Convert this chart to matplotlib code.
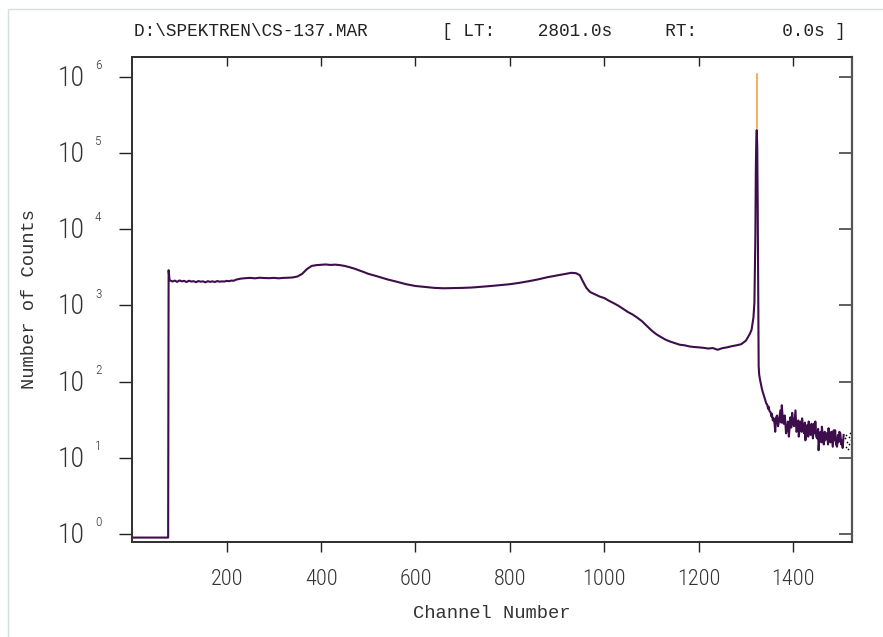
import matplotlib
matplotlib.use('Agg')
import matplotlib.pyplot as plt
from matplotlib.patches import Rectangle

#%% data (channel, counts)

channel_low = [0, 76, 77]
counts_low = [0.9, 0.9, 2900]

channel_flat = [79, 85, 90, 95, 100, 105, 110, 115, 120, 125, 130, 135, 140, 145, 150,
                155, 160, 165, 170, 175, 180, 185, 190, 195, 200, 205, 210, 215,
                220, 230, 240, 250, 260, 270, 280, 290, 300, 310, 320, 330, 340, 350,
                360, 370, 380, 390, 400, 410, 420, 430, 440, 450, 460, 470, 480, 490,
                500, 520, 540, 560, 580, 600, 620, 640, 660, 680, 700, 720, 740, 760,
                780, 800, 820, 840, 860, 880, 900, 915, 930, 940, 948, 955, 962, 970,
                980, 990, 1000, 1010, 1020, 1030, 1040, 1050, 1060, 1070, 1080, 1090,
                1100, 1110, 1120, 1130, 1140, 1150, 1160, 1170, 1180, 1190, 1200, 1210,
                1220, 1230, 1240, 1250, 1260, 1270, 1280, 1290, 1300, 1308, 1312, 1316]
counts_flat = [2150, 2060, 2120, 2040, 2130, 2070, 2100, 2030, 2110, 2060, 2080, 2020, 2090, 2050, 2070,
               2010, 2080, 2040, 2070, 2030, 2090, 2050, 2070, 2060, 2100, 2080, 2120, 2110,
               2180, 2250, 2280, 2300, 2270, 2310, 2290, 2280, 2300, 2270, 2300, 2310, 2330, 2400,
               2600, 3000, 3300, 3380, 3420, 3450, 3400, 3430, 3380, 3300, 3180, 3050, 2900, 2750,
               2600, 2400, 2200, 2050, 1900, 1800, 1750, 1700, 1680, 1690, 1700, 1720, 1760, 1800,
               1850, 1900, 1980, 2080, 2200, 2350, 2480, 2580, 2680, 2650, 2500, 2050, 1700, 1500,
               1400, 1310, 1250, 1150, 1070, 990, 900, 820, 760, 690, 620, 540,
               470, 420, 385, 355, 335, 320, 305, 300, 290, 285, 282, 278,
               272, 276, 262, 275, 282, 292, 300, 310, 345, 420, 480, 700]

channel_peak = [1318, 1320, 1321, 1322, 1323, 1324, 1325, 1326, 1327, 1328]
counts_peak = [1100, 8000, 60000, 150000, 200000, 120000, 20000, 1500, 160, 125]

channel_tail = [1330, 1332, 1334, 1336, 1338, 1340, 1341, 1343, 1345, 1347, 1348, 1350,
                1352, 1354, 1355, 1357, 1359, 1361, 1362, 1364, 1366, 1368, 1370, 1372,
                1373, 1375, 1376, 1378, 1380, 1382, 1383, 1385, 1387, 1389, 1391, 1393,
                1394, 1396, 1398, 1400, 1402, 1404, 1405, 1407, 1409, 1411, 1412, 1414,
                1416, 1418, 1419, 1421, 1423, 1425, 1426, 1428, 1430, 1432, 1433, 1435,
                1437, 1439, 1440, 1442, 1444, 1446, 1447, 1449, 1451, 1453, 1454, 1456,
                1458, 1460, 1461, 1463, 1465, 1467, 1468, 1470, 1472, 1474, 1475, 1477,
                1479, 1481, 1482, 1484, 1486, 1488, 1489, 1491, 1493, 1495, 1496, 1498,
                1500, 1502, 1503, 1505, 1507]
counts_tail = [105, 92, 80, 72, 66, 60, 57, 52, 50, 44, 47, 41,
               40, 35, 38, 31, 33, 27, 22, 34, 36, 26, 30, 38,
               42, 29, 49, 33, 28, 36, 32, 21, 24, 30, 19, 27,
               34, 25, 39, 28, 26, 36, 42, 22, 23, 31, 19, 26,
               30, 22, 33, 25, 21, 29, 17, 24, 27, 19, 30, 22,
               20, 28, 23, 18, 28, 21, 30, 19, 18, 24, 12.6, 20,
               22, 16, 25.6, 19, 15, 22, 17, 21, 21, 15, 24.5, 18,
               16, 22, 19, 14, 23, 17, 23, 15, 14, 20, 16, 22,
               21, 15, 17, 13.5, 20]

channel_dots = [1510, 1512, 1513, 1515, 1516, 1518, 1519, 1521, 1522]
counts_dots = [18, 14, 20, 16, 13, 19, 15, 21, 17]

peak_channel = 1323
peak_top = 1.1e6
peak_base = 2.1e5

xticks = [200, 400, 600, 800, 1000, 1200, 1400]
decades = [0, 1, 2, 3, 4, 5, 6]

title = ('D:\\SPEKTREN\\CS-137.MAR       [ LT:    2801.0s     RT:'
         '        0.0s ]')

#%% plot

mono = ['Liberation Mono', 'DejaVu Sans Mono']
narrow = ['Liberation Sans Narrow', 'Noto Sans Condensed Light', 'Noto Sans Condensed',
          'Roboto Condensed', 'DejaVu Sans Condensed', 'Roboto']

fig = plt.figure(figsize=(8.83, 6.37), dpi=100)
fig.patches.append(Rectangle((8 / 883, -0.1), 1.2, 1 - 9 / 637 + 0.1,
                             transform=fig.transFigure, fill=False,
                             edgecolor='#d3dfdf', lw=1.0))

ax = fig.add_axes([0.1498, 0.1496, 0.8147, 0.7614])

channel = channel_low + channel_flat + channel_peak + channel_tail
counts = counts_low + counts_flat + counts_peak + counts_tail
ax.plot(channel, counts, color='#3e0d4c', lw=1.5)
ax.plot([peak_channel, peak_channel], [peak_base, peak_top], color='#f5a142', lw=1.2)
ax.scatter(channel_dots, counts_dots, s=1.5, color='black', lw=0)

ax.set_yscale('log')
ax.set_xlim(0, 1524)
ax.set_ylim(10 ** -0.1, 10 ** 6.264)

ax.set_xticks(xticks)
ax.set_xticklabels([str(t) for t in xticks], family=narrow, fontsize=16,
                   fontweight='light', color='#333333')
ax.set_yticks([10.0 ** k for k in decades])
ax.set_yticklabels([])
ax.yaxis.set_minor_locator(matplotlib.ticker.NullLocator())
ax.tick_params(axis='x', direction='out', length=7, width=1, color='#222222', pad=13)
ax.tick_params(axis='y', direction='out', length=9.5, width=1, color='#222222')

for k in decades:
    ax.annotate('10', xy=(0, 10.0 ** k), xycoords=('axes fraction', 'data'),
                xytext=(-34.5, -6.5), textcoords='offset points', fontweight='light',
                ha='right', va='baseline', fontsize=20, family=narrow, color='#333333')
    ax.annotate(str(k), xy=(0, 10.0 ** k), xycoords=('axes fraction', 'data'),
                xytext=(-26.9, 5.6), textcoords='offset points', fontweight='light',
                ha='left', va='baseline', fontsize=9.5, family=narrow, color='#333333')

# inward ticks on top and right
axt = ax.twiny()
axt.set_xlim(ax.get_xlim())
axt.set_xticks(xticks)
axt.set_xticklabels([])
axt.tick_params(axis='x', direction='in', length=6.7, width=1, color='#222222')
axr = ax.twinx()
axr.set_yscale('log')
axr.set_ylim(ax.get_ylim())
axr.set_yticks([10.0 ** k for k in decades])
axr.set_yticklabels([])
axr.yaxis.set_minor_locator(matplotlib.ticker.NullLocator())
axr.tick_params(axis='y', direction='in', length=9.3, width=1.2, color='#444444')

for a in (ax, axt, axr):
    for s in a.spines.values():
        s.set_color('#333333')
        s.set_linewidth(1.2)
axr.spines['right'].set_color('#555555')
axr.spines['right'].set_linewidth(1.6)

fig.text(134 / 883, 1 - 32 / 637, title, family=mono, fontsize=12.77,
         ha='left', va='center', color='#222222')
fig.text(492 / 883, 1 - 613 / 637, 'Channel Number', family=mono, fontsize=13.5,
         ha='center', va='center', color='#333333')
fig.text(30 / 883, 1 - 299 / 637, 'Number of Counts', family=mono, fontsize=13.5,
         ha='center', va='center', rotation=90, color='#333333')

fig.savefig('out.png', dpi=100, facecolor='white')
